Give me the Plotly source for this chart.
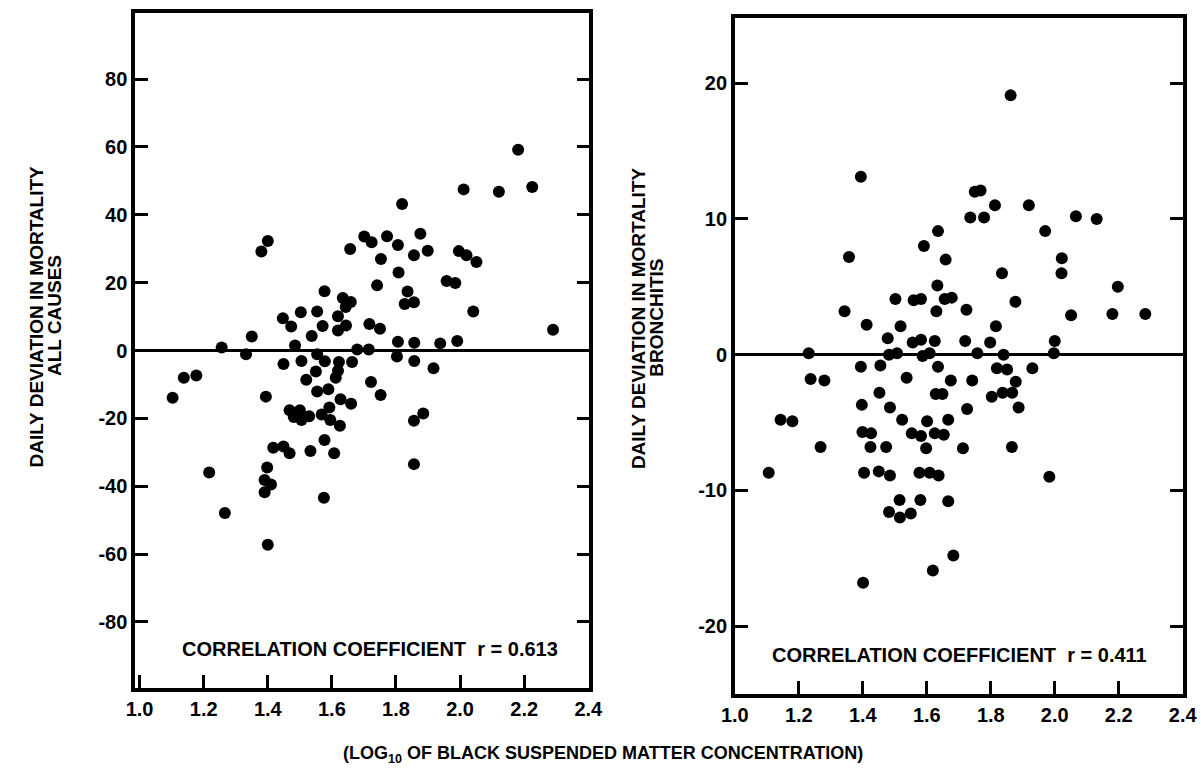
import plotly.graph_objects as go

# ---- data: daily deviation in mortality vs log10 black suspended matter ----
all_causes_x = [1.103, 1.138, 1.177, 1.217, 1.256, 1.266, 1.332, 1.350, 1.380, 1.400,
                1.394, 1.398, 1.390, 1.410, 1.390, 1.400, 1.417, 1.449, 1.468, 1.447,
                1.449, 1.473, 1.468, 1.500, 1.481, 1.505, 1.529, 1.503, 1.554, 1.485,
                1.537, 1.505, 1.554, 1.520, 1.550, 1.578, 1.571, 1.577, 1.554, 1.589,
                1.568, 1.592, 1.595, 1.625, 1.577, 1.533, 1.607, 1.575, 1.619, 1.619,
                1.644, 1.634, 1.659, 1.643, 1.622, 1.619, 1.612, 1.663, 1.627, 1.660,
                1.657, 1.679, 1.715, 1.701, 1.724, 1.772, 1.806, 1.876, 1.899, 1.856,
                1.753, 1.741, 1.717, 1.750, 1.722, 1.752, 1.808, 1.819, 1.836, 1.827,
                1.856, 1.806, 1.857, 1.803, 1.857, 1.856, 1.885, 1.856, 1.917, 1.938,
                1.991, 1.958, 1.985, 1.996, 2.020, 2.051, 2.041, 2.011, 2.121, 2.225,
                2.181, 2.290]
all_causes_y = [-13.9, -8.0, -7.4, -36.0, 0.9, -47.9, -1.1, 4.1, 29.2, 32.3,
                -13.6, -34.5, -38.2, -39.5, -41.8, -57.3, -28.7, -28.3, -30.3, 9.5,
                -4.0, 7.1, -17.6, -17.6, -19.6, -20.5, -19.4, 11.3, 11.5, 1.5,
                4.3, -3.1, -1.1, -8.6, -6.2, -3.2, 7.2, 17.5, -12.1, -11.4,
                -18.9, -16.8, -20.5, -22.2, -26.4, -29.6, -30.3, -43.4, 10.1, 5.9,
                7.4, 15.5, 14.3, 12.8, -3.4, -6.0, -8.0, -3.4, -14.4, -15.7,
                29.9, 0.3, 0.3, 33.6, 31.9, 33.7, 31.1, 34.4, 29.4, 28.1,
                27.0, 19.2, 7.8, 6.4, -9.3, -13.1, 23.0, 43.2, 17.4, 13.7,
                14.2, 2.6, 2.3, -1.8, -3.1, -20.7, -18.6, -33.5, -5.2, 2.1,
                2.8, 20.5, 19.9, 29.3, 28.1, 26.1, 11.5, 47.5, 46.8, 48.2,
                59.2, 6.1]

bronchitis_x = [1.862, 1.394, 1.750, 1.768, 1.736, 1.779, 1.813, 1.919, 2.066, 2.131,
                1.970, 1.635, 1.591, 1.357, 1.659, 2.022, 2.021, 1.835, 1.633, 2.197,
                1.502, 1.559, 1.582, 1.656, 1.678, 1.877, 1.343, 1.630, 1.724, 2.051,
                2.180, 2.283, 1.412, 1.518, 1.816, 1.478, 1.556, 1.582, 1.625, 1.720,
                1.798, 2.000, 1.231, 1.482, 1.507, 1.587, 1.609, 1.758, 1.840, 1.997,
                1.394, 1.455, 1.635, 1.819, 1.851, 1.930, 1.237, 1.280, 1.537, 1.675,
                1.742, 1.878, 1.452, 1.628, 1.649, 1.803, 1.837, 1.867, 1.397, 1.485,
                1.726, 1.887, 1.143, 1.180, 1.523, 1.601, 1.667, 1.399, 1.426, 1.553,
                1.582, 1.625, 1.653, 1.268, 1.424, 1.473, 1.598, 1.713, 1.866, 1.106,
                1.404, 1.450, 1.485, 1.577, 1.609, 1.637, 1.983, 1.515, 1.580, 1.667,
                1.482, 1.516, 1.550, 1.683, 1.619, 1.401]
bronchitis_y = [19.1, 13.1, 12.0, 12.1, 10.1, 10.1, 11.0, 11.0, 10.2, 10.0,
                9.1, 9.1, 8.0, 7.2, 7.0, 7.1, 6.0, 6.0, 5.1, 5.0,
                4.1, 4.0, 4.1, 4.1, 4.2, 3.9, 3.2, 3.2, 3.3, 2.9,
                3.0, 3.0, 2.2, 2.1, 2.1, 1.2, 0.9, 1.1, 1.0, 1.0,
                0.9, 1.0, 0.1, 0.0, 0.1, -0.1, 0.1, 0.1, 0.0, 0.1,
                -0.9, -0.8, -0.9, -1.0, -1.1, -1.0, -1.8, -1.9, -1.7, -1.9,
                -1.9, -2.0, -2.8, -2.9, -2.9, -3.1, -2.8, -2.8, -3.7, -3.9,
                -4.0, -3.9, -4.8, -4.9, -4.8, -4.9, -4.8, -5.7, -5.8, -5.8,
                -6.0, -5.8, -5.9, -6.8, -6.8, -6.8, -6.9, -6.9, -6.8, -8.7,
                -8.7, -8.6, -8.9, -8.7, -8.7, -8.9, -9.0, -10.7, -10.7, -10.8,
                -11.6, -12.0, -11.7, -14.8, -15.9, -16.8]

x_tick_vals = [1.0, 1.2, 1.4, 1.6, 1.8, 2.0, 2.2, 2.4]
x_tick_text = ["1.0", "1.2", "1.4", "1.6", "1.8", "2.0", "2.2", "2.4"]
left_y_ticks = [-80, -60, -40, -20, 0, 20, 40, 60, 80]
left_y_text = ["-80", "-60", "-40", "-20", "0", "20", "40", "60", "80"]
right_y_ticks = [-20, -10, 0, 10, 20]
right_y_text = ["-20", "-10", "0", "10", "20"]

r_all_causes = "0.613"
r_bronchitis = "0.411"

FONT = "Liberation Sans, Arial, Helvetica, sans-serif"
W, H = 1201, 770


def px_x(p):
    return p / W


def px_y(p):
    return 1 - p / H


marker = dict(color="black", size=12, line=dict(width=0))

fig = go.Figure()
fig.add_trace(go.Scatter(x=all_causes_x, y=all_causes_y, mode="markers",
                         marker=marker, xaxis="x", yaxis="y", hoverinfo="x+y"))
fig.add_trace(go.Scatter(x=bronchitis_x, y=bronchitis_y, mode="markers",
                         marker=marker, xaxis="x2", yaxis="y2", hoverinfo="x+y"))

common = dict(
    showline=True, linecolor="black", linewidth=3.5,
    ticks="inside", ticklen=13, tickwidth=3, tickcolor="black",
    showgrid=False, color="black", ticklabeloverflow="allow",
)
xfont = dict(family=FONT, size=20, color="black", weight="bold")
yfont = dict(family=FONT, size=20, color="black", weight="bold")

fig.update_layout(
    width=W, height=H,
    margin=dict(l=0, r=0, t=0, b=0),
    paper_bgcolor="white", plot_bgcolor="white",
    showlegend=False,
    xaxis=dict(common, domain=[px_x(124), px_x(589)], range=[0.986, 2.403],
               tickvals=x_tick_vals, ticktext=x_tick_text, tickfont=xfont,
               mirror=True, zeroline=False, anchor="y"),
    yaxis=dict(common, domain=[px_y(688), px_y(13)], range=[-99.5, 99.5],
               tickvals=left_y_ticks, ticktext=left_y_text, tickfont=yfont,
               mirror="ticks", zeroline=True, zerolinecolor="black",
               zerolinewidth=3, anchor="x"),
    xaxis2=dict(common, domain=[px_x(738), px_x(1197)], range=[1.0, 2.401],
                tickvals=x_tick_vals, ticktext=x_tick_text, tickfont=xfont,
                mirror=True, zeroline=False, anchor="y2"),
    yaxis2=dict(common, domain=[px_y(694), px_y(18)], range=[-25, 24.8],
                tickvals=right_y_ticks, ticktext=right_y_text, tickfont=yfont,
                mirror="ticks", zeroline=True, zerolinecolor="black",
                zerolinewidth=3, anchor="x2"),
)

label_font = dict(family=FONT, size=19, color="black", weight="bold")
corr_font = dict(family=FONT, size=20, color="black", weight="bold")

annotations = [
    # correlation coefficients inside each panel
    dict(x=px_x(364), y=px_y(649),
         text=f"CORRELATION COEFFICIENT  r = {r_all_causes}", font=corr_font),
    dict(x=px_x(968), y=px_y(655),
         text=f"CORRELATION COEFFICIENT  r = {r_bronchitis}", font=corr_font),
    # vertical axis titles
    dict(x=px_x(23), y=px_y(316), text="DAILY DEVIATION IN MORTALITY",
         textangle=-90, font=label_font),
    dict(x=px_x(41), y=px_y(316), text="ALL CAUSES",
         textangle=-90, font=label_font),
    dict(x=px_x(639), y=px_y(318), text="DAILY DEVIATION IN MORTALITY",
         textangle=-90, font=label_font),
    dict(x=px_x(657), y=px_y(318), text="BRONCHITIS",
         textangle=-90, font=label_font),
    # shared horizontal title
    dict(x=px_x(603), y=px_y(754),
         text="(LOG<sub>10</sub> OF BLACK SUSPENDED MATTER CONCENTRATION)",
         font=dict(family=FONT, size=18, color="black", weight="bold")),
]
for a in annotations:
    a.update(xref="paper", yref="paper", showarrow=False,
             xanchor="center", yanchor="middle")
fig.update_layout(annotations=annotations)

fig.write_html("out.html")
